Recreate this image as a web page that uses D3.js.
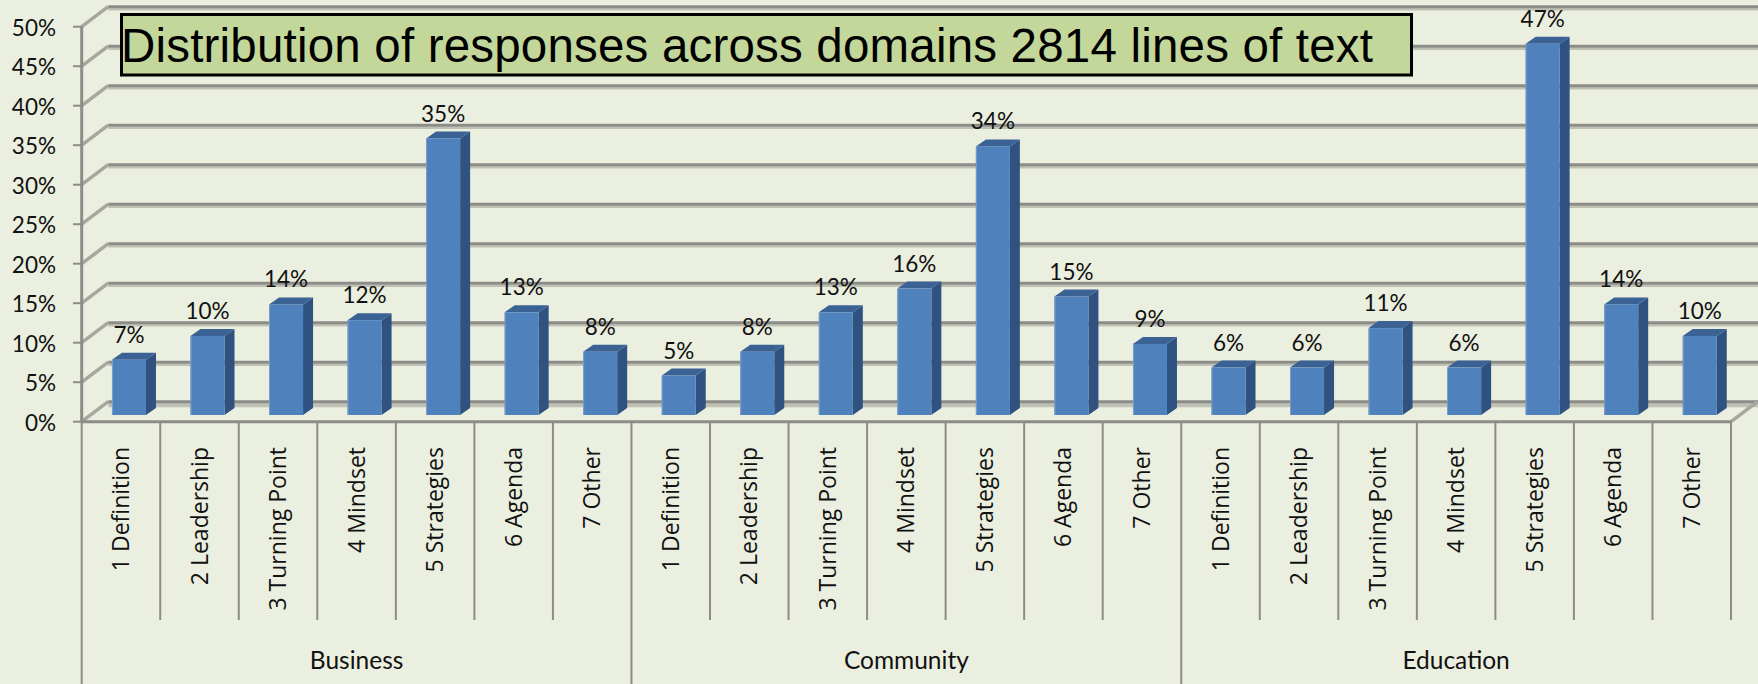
<!DOCTYPE html>
<html>
<head>
<meta charset="utf-8">
<script src="https://cdn.jsdelivr.net/npm/d3@7/dist/d3.min.js"></script>
<style>
  html, body { margin: 0; padding: 0; background: #ebefdf; }
  svg { display: block; }
  text { fill: #111; }
</style>
</head>
<body>
<svg id="chart" width="1758" height="684"></svg>
<script>
const domains = ["Business", "Community", "Education"];
const categories = ["1 Definition", "2 Leadership", "3 Turning Point", "4 Mindset", "5 Strategies", "6 Agenda", "7 Other"];
const businessValues = [7, 10, 14, 12, 35, 13, 8];
const communityValues = [5, 8, 13, 16, 34, 15, 9];
const educationValues = [6, 6, 11, 6, 47, 14, 10];
const valueTicks = [0, 5, 10, 15, 20, 25, 30, 35, 40, 45, 50];
const chartTitle = "Distribution of responses across domains 2814 lines of text";

const seriesByDomain = [businessValues, communityValues, educationValues];
const rows = domains.flatMap((domain, d) =>
  categories.map((category, c) => ({ key: domain + "|" + category, domain, category, value: seriesByDomain[d][c] })));

const svg = d3.select("#chart");
const chartWidth = 1758, chartHeight = 684;

// Front plane of the 3D box
const x = d3.scaleBand().domain(rows.map(r => r.key)).range([81.7, 1731]).paddingInner(0).paddingOuter(0);
const y = d3.scaleLinear().domain([0, 50]).range([421.7, 26.7]);

// Depth of the box, and how far into it the bars stand
const depth = { dx: 26.5, dy: -20 };
const barInset = { dx: 8, dy: -6.7 };
const barDepth = { dx: 10, dy: -7 };
const barWidth = 34;

const axisColor = "#8c8c88";
const gridShadow = "#bfc1b5";
const wallColor = "#a6a79f";

// Back wall gridlines with their soft lower edge
const grid = svg.append("g");
grid.selectAll("line.shadow").data(valueTicks).join("line").attr("class", "shadow")
  .attr("x1", x.range()[0] + depth.dx).attr("x2", chartWidth)
  .attr("y1", d => y(d) + depth.dy + 2.5).attr("y2", d => y(d) + depth.dy + 2.5)
  .attr("stroke", gridShadow).attr("stroke-width", d => d === 0 ? 6 : 2.5);
grid.selectAll("line.major").data(valueTicks).join("line").attr("class", "major")
  .attr("x1", x.range()[0] + depth.dx).attr("x2", chartWidth)
  .attr("y1", d => y(d) + depth.dy).attr("y2", d => y(d) + depth.dy)
  .attr("stroke", axisColor).attr("stroke-width", 3);

// Side wall lines running from the axis to the back wall
grid.selectAll("line.side").data(valueTicks).join("line").attr("class", "side")
  .attr("x1", x.range()[0]).attr("x2", x.range()[0] + depth.dx)
  .attr("y1", d => y(d)).attr("y2", d => y(d) + depth.dy)
  .attr("stroke", wallColor).attr("stroke-width", 3.5);
grid.append("line")
  .attr("x1", x.range()[1]).attr("x2", x.range()[1] + depth.dx)
  .attr("y1", y(0)).attr("y2", y(0) + depth.dy)
  .attr("stroke", wallColor).attr("stroke-width", 3.5);

// Value axis
const axis = svg.append("g");
axis.append("line")
  .attr("x1", x.range()[0]).attr("x2", x.range()[0])
  .attr("y1", y(50)).attr("y2", y(0))
  .attr("stroke", axisColor).attr("stroke-width", 3);
axis.selectAll("line.tick").data(valueTicks).join("line").attr("class", "tick")
  .attr("x1", 73).attr("x2", x.range()[0])
  .attr("y1", d => y(d)).attr("y2", d => y(d))
  .attr("stroke", axisColor).attr("stroke-width", 2);
axis.selectAll("text").data(valueTicks).join("text")
  .attr("x", 56).attr("y", d => y(d) + 9)
  .attr("text-anchor", "end")
  .attr("font-family", "Lato, sans-serif").attr("font-size", 22.5)
  .text(d => d + "%");

// Category baseline
svg.append("line")
  .attr("x1", x.range()[0]).attr("x2", x.range()[1])
  .attr("y1", y(0)).attr("y2", y(0))
  .attr("stroke", axisColor).attr("stroke-width", 3);

// Bars: side, top and front faces
const bars = svg.append("g").selectAll("g").data(rows).join("g");
const barLeft = r => x(r.key) + barInset.dx + (x.bandwidth() - barWidth) / 2;
const barBase = y(0) + barInset.dy;
const barTop = r => y(r.value) + barInset.dy;

bars.append("path")
  .attr("fill", "#2f5280")
  .attr("d", r => {
    const xr = barLeft(r) + barWidth;
    return d3.line()([[xr, barTop(r)], [xr + barDepth.dx, barTop(r) + barDepth.dy], [xr + barDepth.dx, barBase + barDepth.dy], [xr, barBase]]) + "Z";
  });
bars.append("path")
  .attr("fill", "#3b6294")
  .attr("d", r => {
    const xl = barLeft(r), t = barTop(r);
    return d3.line()([[xl, t], [xl + barDepth.dx, t + barDepth.dy], [xl + barWidth + barDepth.dx, t + barDepth.dy], [xl + barWidth, t]]) + "Z";
  });
bars.append("rect")
  .attr("x", barLeft).attr("y", barTop)
  .attr("width", barWidth).attr("height", r => barBase - barTop(r))
  .attr("fill", "#4f81bd");
// Lighter left edge of each front face
bars.append("line")
  .attr("x1", r => barLeft(r) + 0.5).attr("x2", r => barLeft(r) + 0.5)
  .attr("y1", barTop).attr("y2", barBase)
  .attr("stroke", "#7b9fc9").attr("stroke-width", 1);

// Data labels over each bar
svg.append("g").selectAll("text").data(rows).join("text")
  .attr("x", r => barLeft(r) + barWidth / 2)
  .attr("y", r => barTop(r) - 17)
  .attr("text-anchor", "middle")
  .attr("font-family", "Lato, sans-serif").attr("font-size", 22.5)
  .text(r => r.value + "%");

// Multi-level category axis
const labelAxis = svg.append("g");
labelAxis.selectAll("line.inner").data(rows).join("line").attr("class", "inner")
  .attr("x1", r => x(r.key)).attr("x2", r => x(r.key))
  .attr("y1", y(0)).attr("y2", (r, i) => i % categories.length === 0 ? chartHeight : 620)
  .attr("stroke", axisColor).attr("stroke-width", 2);
labelAxis.append("line")
  .attr("x1", x.range()[1]).attr("x2", x.range()[1])
  .attr("y1", y(0)).attr("y2", 620)
  .attr("stroke", axisColor).attr("stroke-width", 2);
labelAxis.selectAll("text.cat").data(rows).join("text").attr("class", "cat")
  .attr("transform", r => `translate(${x(r.key) + x.bandwidth() / 2 + 8},447) rotate(-90)`)
  .attr("text-anchor", "end")
  .attr("font-family", "'Open Sans', sans-serif").attr("font-size", 23)
  .text(r => r.category);
labelAxis.selectAll("text.domain").data(domains).join("text").attr("class", "domain")
  .attr("x", d => x(d + "|" + categories[0]) + 3.5 * x.bandwidth())
  .attr("y", 669)
  .attr("text-anchor", "middle")
  .attr("font-family", "Lato, sans-serif").attr("font-size", 24.5)
  .text(d => d);

// Title box
const titleBox = svg.append("g");
titleBox.append("rect")
  .attr("x", 121.5).attr("y", 14.5).attr("width", 1290).attr("height", 60.5)
  .attr("fill", "#c4d79b").attr("stroke", "#000").attr("stroke-width", 3);
titleBox.append("text")
  .attr("x", 121).attr("y", 62)
  .attr("font-family", "'Liberation Sans', Arial, sans-serif").attr("font-size", 47.5)
  .attr("textLength", 1252).attr("lengthAdjust", "spacing")
  .style("fill", "#000")
  .text(chartTitle);
</script>
</body>
</html>
